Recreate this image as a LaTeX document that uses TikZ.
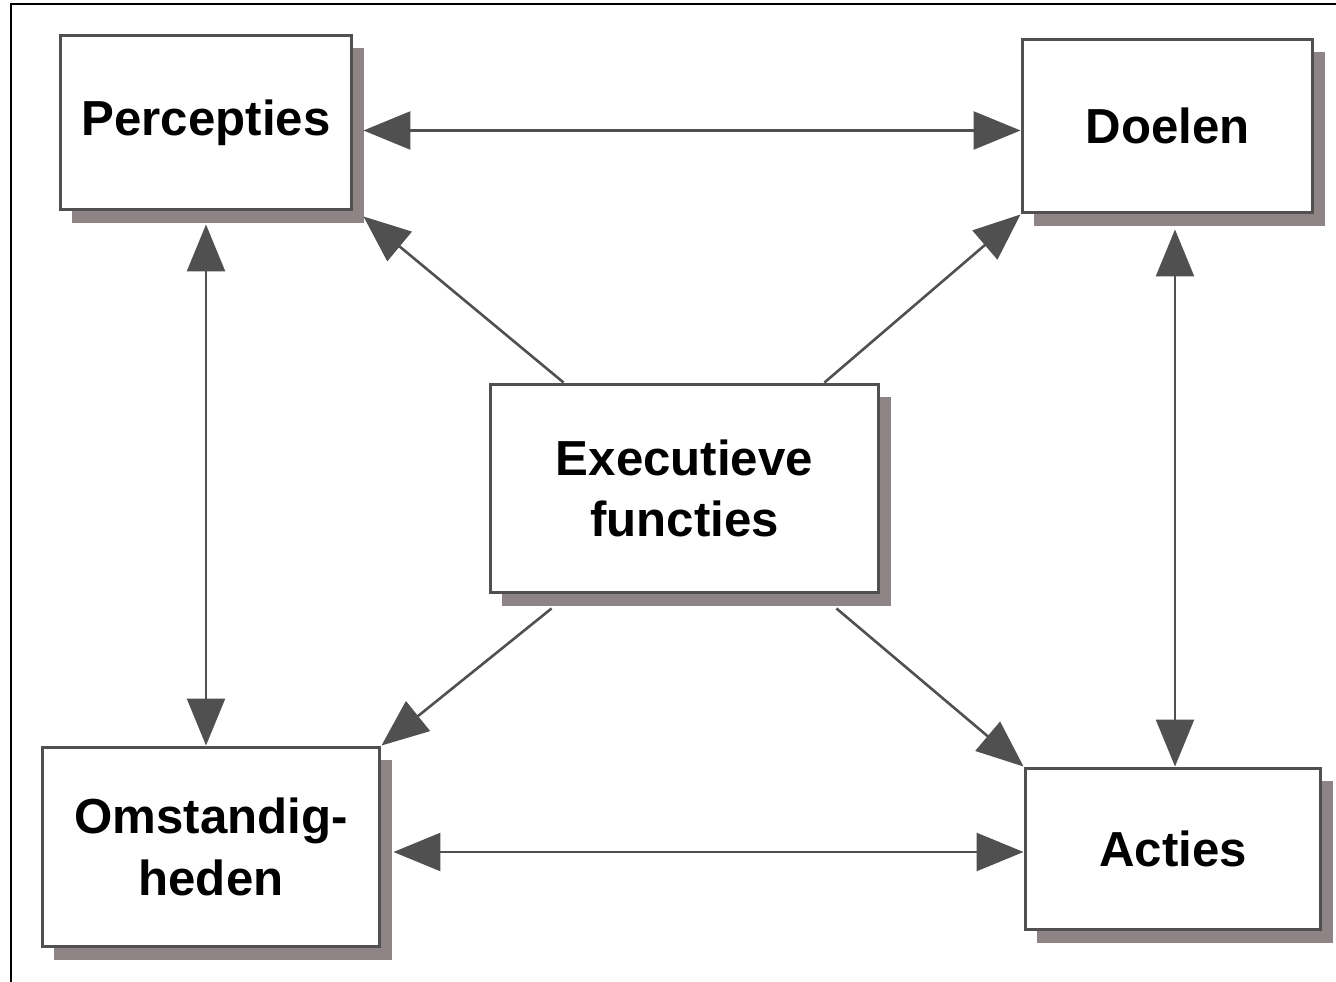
\documentclass[tikz,border=0pt]{standalone}
\usepackage{fontspec}
\setmainfont{Liberation Sans}
\usetikzlibrary{arrows.meta,shadows,calc}
\definecolor{linegrey}{HTML}{505050}
\definecolor{shadowgrey}{HTML}{8E8486}

\begin{document}
\begin{tikzpicture}[x=0.02cm, y=-0.02cm,
    box/.style={draw=linegrey, line width=0.06cm, fill=white, inner sep=0pt, align=center,
        font=\fontsize{28}{35}\selectfont\bfseries,
        drop shadow={shadow xshift=0.24cm, shadow yshift=-0.26cm, fill=shadowgrey, opacity=1}},
    arrow/.style={draw=linegrey, line width=0.052cm, -{Triangle[length=0.94cm, width=0.76cm]}},
    biarrow/.style={arrow, {Triangle[length=0.94cm, width=0.76cm]}-{Triangle[length=0.94cm, width=0.76cm]}}]
    \useasboundingbox (0,0) rectangle (1336,982);
    \draw[line width=0.04cm] (11,990) -- (11,4) -- (1345,4);
    % boxes
    \node[box, minimum width=5.84cm, minimum height=3.5cm] (perc) at (206,122.5) {Percepties};
    \node[box, minimum width=5.82cm, minimum height=3.48cm] (doel) at (1167.5,126) {Doelen};
    \node[box, minimum width=7.78cm, minimum height=4.18cm] (exec) at (684.5,488.5) {Executieve\\functies};
    \node[box, minimum width=6.76cm, minimum height=4cm] (omst) at (211,847) {Omstandig-\\heden};
    \node[box, minimum width=5.92cm, minimum height=3.24cm] (acti) at (1173,849) {Acties};
    % connectors
    \draw[biarrow, shorten <=0.2cm] ($(perc.east)+(0,8)$) -- ($(perc.east -| doel.west)+(0,8)$);
    \draw[biarrow, shorten <=0.26cm] (perc.south) -- (perc.south |- omst.north);
    \draw[biarrow, shorten <=0.3cm] ($(doel.south -| acti.north)+(2,0)$) -- ($(acti.north)+(2,0)$);
    \draw[biarrow, shorten <=0.24cm] ($(omst.east)+(0,5)$) -- ($(omst.east -| acti.west)+(0,5)$);
    \draw[arrow] ($(exec.north west)+(75,0)$) -- ($(perc.south east)+(10,5)$);
    \draw[arrow] ($(exec.north east)+(-56,0)$) -- (doel.south west);
    \draw[arrow] ($(exec.south west)+(63,14)$) -- (omst.north east);
    \draw[arrow] ($(exec.south east)+(-44,14)$) -- (acti.north west);
\end{tikzpicture}
\end{document}
